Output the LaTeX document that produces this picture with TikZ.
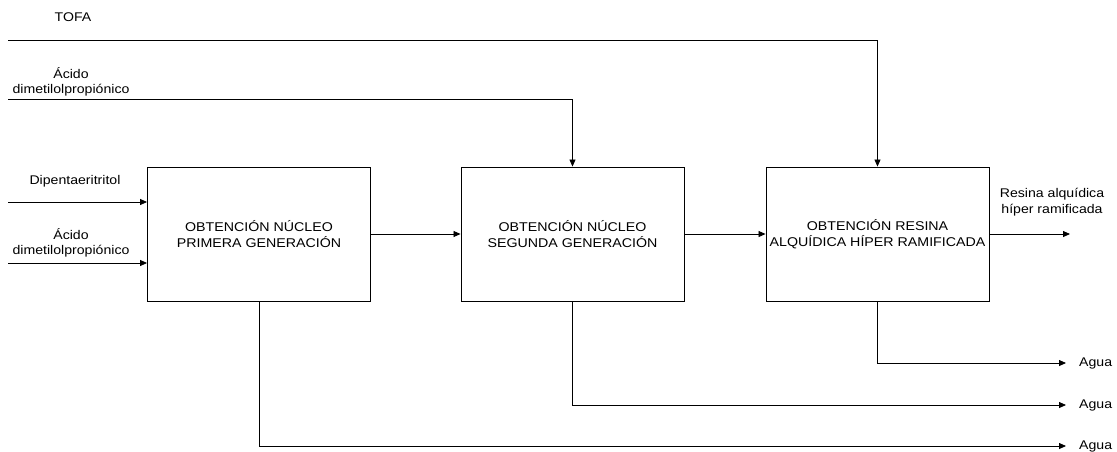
\documentclass[tikz,border=0pt]{standalone}
\usepackage{fontspec}
\setmainfont{Liberation Sans}[FakeStretch=1.12]
\usetikzlibrary{arrows.meta}
\begin{document}
\begin{tikzpicture}[x=1pt,y=-1pt,
  proc/.style={draw=black,line width=0.9pt,minimum width=223pt,minimum height=134pt,align=center,font=\fontsize{12.7}{16.5}\selectfont,inner sep=0pt},
  lbl/.style={align=center,font=\fontsize{12.6}{15.5}\selectfont,inner sep=0pt},
  conn/.style={line width=0.8pt,-{Triangle[length=7pt,width=6pt]}}]
\useasboundingbox (0,0) rectangle (1117,451);
\node[proc] (b1) at (259,234) {OBTENCIÓN NÚCLEO\\PRIMERA GENERACIÓN};
\node[proc] (b2) at (572.5,234) {OBTENCIÓN NÚCLEO\\SEGUNDA GENERACIÓN};
\node[proc] (b3) at (877.5,234) {OBTENCIÓN RESINA\\ALQUÍDICA HÍPER RAMIFICADA};
% labels
\node[lbl] (ltofa) at (73,17) {TOFA};
\node[lbl] (lacido1) at (71,82) {Ácido\\dimetilolpropiónico};
\node[lbl] (ldipe) at (75,181) {Dipentaeritritol};
\node[lbl] (lacido2) at (71,243) {Ácido\\dimetilolpropiónico};
\node[lbl] (lres) at (1052,202) {Resina alquídica\\híper ramificada};
\node[lbl,anchor=west] (ag1) at (1079,363) {Agua};
\node[lbl,anchor=west] (ag2) at (1079,405) {Agua};
\node[lbl,anchor=west] (ag3) at (1079,446) {Agua};
% start coordinates
\coordinate (sTofa) at (8,40);
\coordinate (sAc1) at (8,99);
\coordinate (sDip) at (8,202);
\coordinate (sAc2) at (8,263);
\coordinate (eRes) at (1070,234);
% connectors
\draw[conn] (sTofa) -| (b3.north);
\draw[conn] (sAc1) -| (b2.north);
\draw[conn] (sDip) -- (sDip -| b1.west);
\draw[conn] (sAc2) -- (sAc2 -| b1.west);
\draw[conn] (b1.east) -- (b2.west);
\draw[conn] (b2.east) -- (b3.west);
\draw[conn] (b3.east) -- (eRes);
\draw[conn,shorten >=13pt] (b3.south) |- (ag1.west);
\draw[conn,shorten >=13pt] (b2.south) |- (ag2.west);
\draw[conn,shorten >=13pt] (b1.south) |- (ag3.west);
\end{tikzpicture}
\end{document}
